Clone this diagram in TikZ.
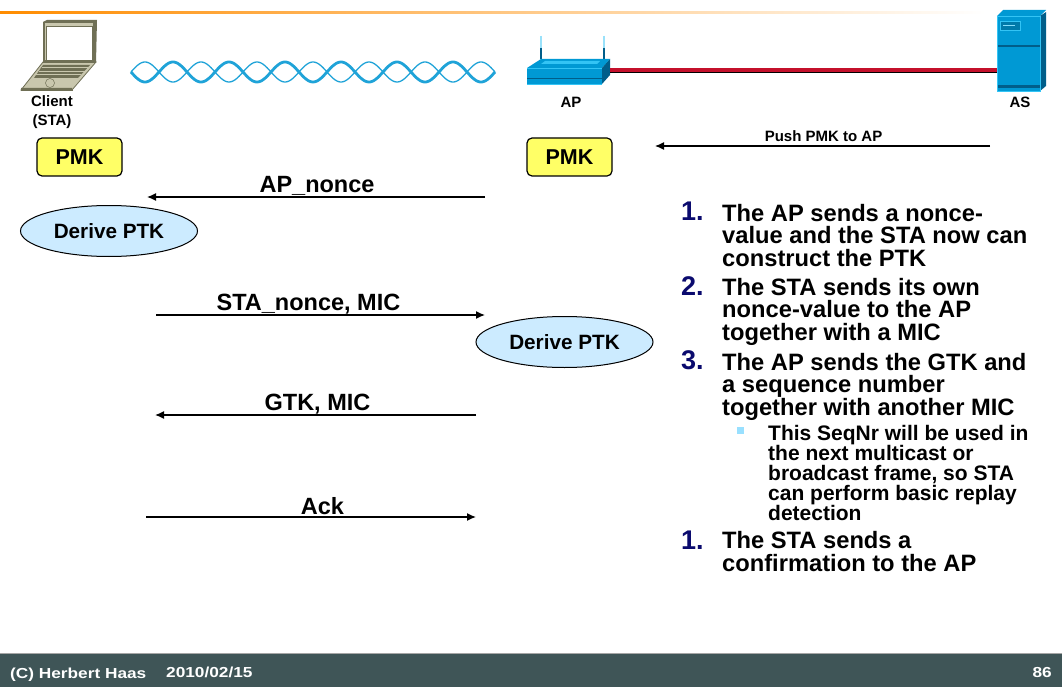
\documentclass[tikz,border=0pt]{standalone}
\usepackage{fontspec}
\setmainfont{Liberation Sans}
\newfontfamily\footf[FakeStretch=1.19]{Liberation Sans}
\usetikzlibrary{shapes.geometric,arrows.meta}
\definecolor{navyn}{HTML}{0A0A6E}
\definecolor{footc}{HTML}{3F5557}
\definecolor{pmkc}{HTML}{FFFF66}
\definecolor{ellc}{HTML}{CCEBFF}
\definecolor{devc}{HTML}{0099D4}
\definecolor{devd}{HTML}{005E8A}
\definecolor{devl}{HTML}{33C4F5}
\definecolor{lapl}{HTML}{C9C7AE}
\definecolor{lapd}{HTML}{6F6F55}
\definecolor{wavec}{HTML}{1FA3D8}
\definecolor{linkc}{HTML}{C4102B}
\tikzset{
  pmkbox/.style={draw=black,line width=1.2pt,fill=pmkc,rounded corners=5pt,minimum width=85pt,minimum height=38pt,inner sep=0pt,font=\fontsize{21.5}{21.5}\selectfont\bfseries},
  derive/.style={ellipse,draw=black,line width=1pt,fill=ellc,minimum width=177pt,minimum height=51pt,inner sep=0pt,font=\fontsize{20.7}{20.7}\selectfont\bfseries},
  msg/.style={-{Latex[length=9pt,width=8pt]},line width=1.4pt,black},
  msglabel/.style={inner sep=0pt,font=\fontsize{23.5}{23.5}\selectfont\bfseries},
  devlabel/.style={inner sep=0pt,align=center,font=\fontsize{15}{19}\selectfont\bfseries},
  num/.style={inner sep=0pt,anchor=base west,text=navyn,font=\fontsize{27}{27}\selectfont\bfseries},
  body/.style={inner sep=0pt,anchor=base west,align=left,font=\fontsize{23.7}{22.5}\selectfont\bfseries},
  subbody/.style={inner sep=0pt,anchor=base west,align=left,font=\fontsize{21}{20}\selectfont\bfseries},
  foot/.style={inner sep=0pt,anchor=base west,text=white,font=\footf\fontsize{14.5}{14.5}\selectfont\bfseries}
}
\begin{document}
\begin{tikzpicture}[x=1pt,y=-1pt]
\useasboundingbox (0,0) rectangle (1062,687);
\fill[white] (0,0) rectangle (1062,687);
% top rule
\shade[left color=orange!90!yellow,right color=white] (0,11.5) rectangle (985,14);
% footer
\fill[footc] (0,653) rectangle (1062,687);
\fill[gray!70] (0,652.5) rectangle (1062,653.5);
% laptop
\fill[lapl,draw=lapd,line width=.8pt] (43,62) -- (96,62) -- (72,90) -- (21,90) -- cycle;
\fill[lapd] (21,88) -- (72,88) -- (73,91) -- (21,91) -- cycle;
\fill[lapd] (43,22) -- (47,20) -- (97,20) -- (96,63) -- (43,63) -- cycle;
\fill[lapl] (45,23) -- (93,23) -- (93,60) -- (45,60) -- cycle;
\fill[white,draw=lapd,line width=.5pt] (46,26) rectangle (92,60);
\fill[lapd] (43,65) -- (90,65) -- (78,78) -- (34,78) -- cycle;
\foreach \yy/\xa/\xb in {67.5/42/88,71/39/85,74.5/36/81}
  \draw[lapl,line width=.6pt] (\xa,\yy) -- (\xb,\yy);
\draw[lapd,line width=.5pt] (50,83) circle (4.5pt);
% wireless
\draw[wavec,line width=2.8pt,line join=round] plot[domain=0:364,samples=260] ({131+\x},{72+10*sin(\x/28*180)});
\draw[wavec,line width=1.3pt,line join=round] plot[domain=0:364,samples=260] ({131+\x},{72-10*sin(\x/28*180)});
% AP device
\coordinate (apport) at (610,70);
\coordinate (asport) at (997,70);
\draw[line width=1.2pt,devl!50] (541,36) -- (541,48);
\draw[line width=1.2pt,devd] (541,48) -- (541,59);
\draw[line width=1.2pt,devl!50] (604,36) -- (604,48);
\draw[line width=1.2pt,devd] (604,48) -- (604,59);
\fill[devc] (527,68) -- (541,59) -- (610,59) -- (602,68) -- cycle;
\fill[devl] (541,64) -- (545,61) -- (600,61) -- (597,64) -- cycle;
\fill[devc] (527,68) rectangle (602,84);
\draw[devl,line width=.7pt] (527,68) -- (602,68);
\draw[devd,line width=.8pt] (527,78) -- (602,78);
\draw[devl,line width=.7pt] (527,84) -- (602,84);
\fill[devd] (602,68) -- (610,59) -- (610,75) -- (602,84) -- cycle;
% AS device
\fill[devc] (997,16) -- (1003,10) -- (1046,10) -- (1040,16) -- cycle;
\fill[devc] (997,16) rectangle (1040,91);
\fill[devd] (1040,16) -- (1046,12) -- (1046,86) -- (1040,91) -- cycle;
\fill[devd] (998,45) rectangle (1040,47.5);
\fill[devd] (998,85) rectangle (1040,88);
\draw[devl,line width=.7pt] (997,16) rectangle (1040,91);
\draw[devl,fill=devc!80!black,line width=.6pt] (1000,21) rectangle (1020,30.5);
\fill[devl!60!white] (1003,25) rectangle (1015,26.5);
% AP-AS link
\draw[line width=1pt,black] ([yshift=-2.5pt]apport) -- ([yshift=-2.5pt]asport);
\draw[line width=4pt,linkc] (apport) -- (asport);
% device labels
\node[devlabel] (client) at (52,112) {Client\\(STA)};
\node[devlabel] (aplab) at (571,102.5) {AP};
\node[devlabel] (aslab) at (1020,102.5) {AS};
% PMK
\node[pmkbox] (pmka) at (79.5,157) {PMK};
\node[pmkbox] (pmkb) at (569.5,157) {PMK};
% push
\coordinate (pushs) at (990,146);
\coordinate (pushe) at (655,146);
\draw[msg,line width=1.2pt] (pushs) -- (pushe);
\node[inner sep=0pt,font=\fontsize{15}{15}\selectfont\bfseries] (pushl) at (823.5,136.5) {Push PMK to AP};
% derive
\node[derive] (dera) at (109,231) {Derive PTK};
\node[derive] (derb) at (564.5,342) {Derive PTK};
% messages
\coordinate (m1s) at (485,197); \coordinate (m1e) at (147,197);
\coordinate (m2s) at (156,315); \coordinate (m2e) at (485,315);
\coordinate (m3s) at (476,415); \coordinate (m3e) at (155,415);
\coordinate (m4s) at (146,517); \coordinate (m4e) at (476,517);
\draw[msg] (m1s) -- (m1e);
\draw[msg] (m2s) -- (m2e);
\draw[msg] (m3s) -- (m3e);
\draw[msg] (m4s) -- (m4e);
\node[msglabel] (l1) at (317,185.5) {AP\_nonce};
\node[msglabel] (l2) at (308.5,304.5) {STA\_nonce, MIC};
\node[msglabel] (l3) at (317.5,404) {GTK, MIC};
\node[msglabel] (l4) at (322.5,506) {Ack};
% right list
\node[num] (n1) at (681,220) {1.};
\node[body] (b1) at (722,266) {The AP sends a nonce-\\value and the STA now can\\construct the PTK};
\node[num] (n2) at (681,295) {2.};
\node[body] (b2) at (722,340) {The STA sends its own\\nonce-value to the AP\\together with a MIC};
\node[num] (n3) at (681,369) {3.};
\node[body] (b3) at (722,415) {The AP sends the GTK and\\a sequence number\\together with another MIC};
\fill[blue!30!cyan!40] (737,427) rectangle (744,434);
\node[subbody] (s1) at (768,520) {This SeqNr will be used in\\the next multicast or\\broadcast frame, so STA\\can perform basic replay\\detection};
\node[num] (n4) at (681,549) {1.};
\node[body] (b4) at (722,571) {The STA sends a\\confirmation to the AP};
% footer text
\node[foot] (f1) at (10,678) {(C) Herbert Haas};
\node[foot] (f2) at (166,677) {2010/02/15};
\node[foot,anchor=base east] (f3) at (1052,677) {86};
\end{tikzpicture}
\end{document}
